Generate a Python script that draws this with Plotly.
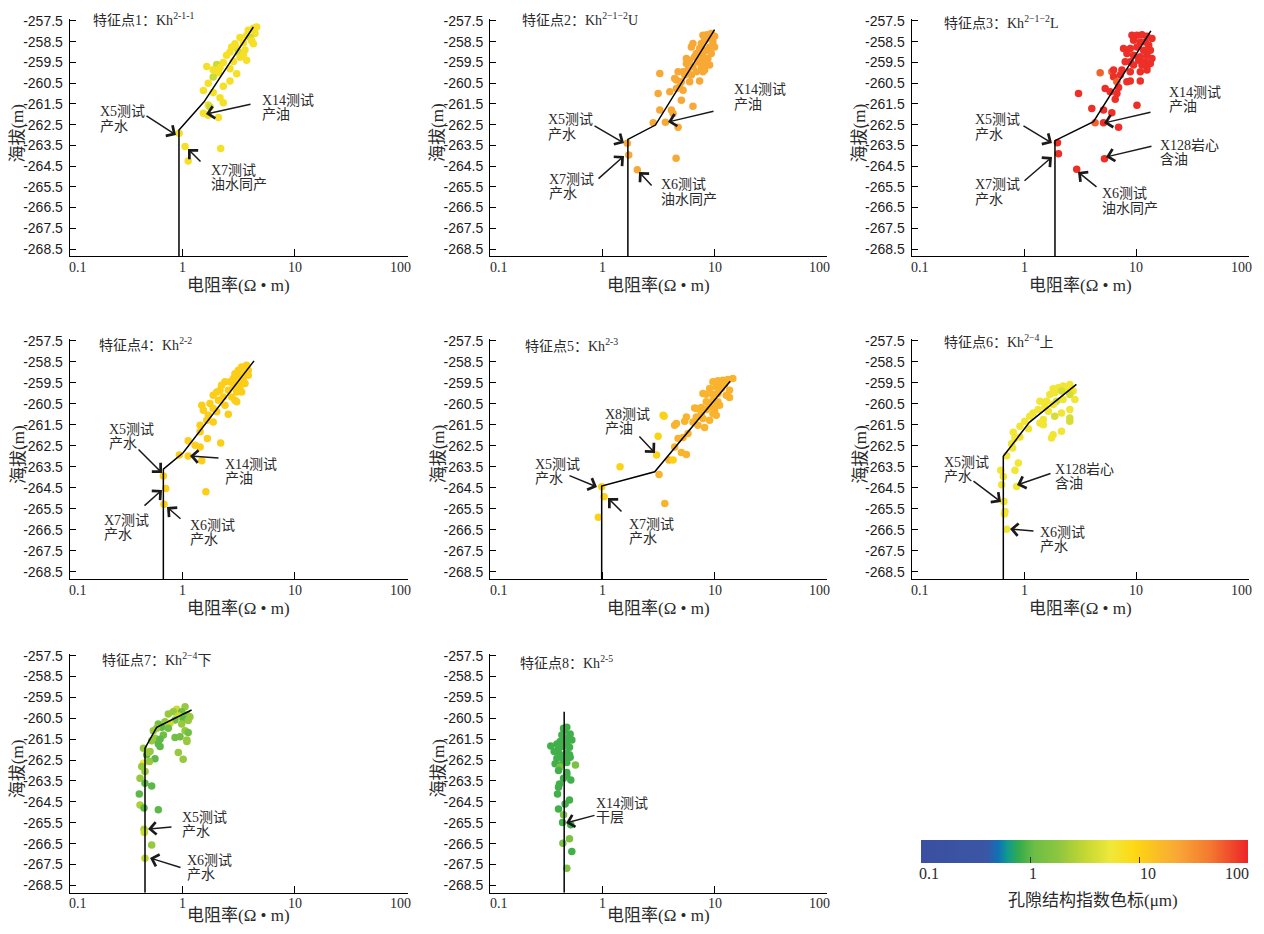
import numpy as np
import plotly.graph_objects as go

# the page body has an 8 px margin: the figure is sized to fit inside the window
VIEW_W, VIEW_H, BODY = 1264, 934, 8
W, H = VIEW_W - 2 * BODY, VIEW_H - 2 * BODY

# ---------------- data (resistivity Ω·m, elevation m, pore-structure index μm) ----------------
p1_res = [4.56, 4.26, 3.84, 4.40, 3.71, 3.98, 4.11, 3.24, 3.47, 2.92, 3.03, 3.59, 4.26, 2.73, 3.13, 3.47,
          2.64, 2.46, 3.24, 3.71, 2.83, 2.30, 2.01, 1.64, 2.15, 1.87, 2.64, 2.08, 3.03, 1.87, 1.69, 2.64,
          2.30, 1.53, 1.87, 2.15, 2.30, 1.69, 1.75, 1.53, 1.69, 2.08, 0.93, 1.05, 1.12, 2.18]
p1_elev = [-257.79, -257.85, -257.95, -258.10, -258.20, -258.30, -258.45, -258.30, -258.55, -258.60, -258.80,
           -258.90, -258.60, -258.75, -259.00, -259.10, -259.00, -259.15, -259.25, -259.40, -259.45, -259.50,
           -259.60, -259.70, -259.75, -259.85, -259.80, -260.00, -260.05, -260.20, -260.50, -260.40, -260.65,
           -260.85, -260.95, -261.20, -261.45, -261.55, -261.65, -261.95, -262.05, -262.15, -262.92, -263.55,
           -264.25, -263.65]
p1_pci = [7, 7, 7, 7, 7, 3.5, 7, 7, 7, 7, 7, 7, 7, 7, 3.5, 7, 7, 7, 7, 7, 7, 7, 3.5, 7, 7, 7, 7, 7, 7,
          3.5, 7, 7, 7, 7, 7, 7, 7, 7, 3.5, 7, 7, 7, 7, 7, 7, 7]
p1_line_res = [0.927, 0.927, 1.55, 4.26]
p1_line_elev = [-268.85, -262.76, -261.40, -257.79]

p2_res = [7.87, 8.55, 9.34, 10.0, 9.03, 8.15, 7.61, 9.66, 9.03, 10.0, 7.35, 8.43, 7.87, 6.87, 9.34, 6.20,
          6.64, 7.61, 8.72, 5.99, 7.11, 8.15, 5.60, 6.41, 7.61, 5.79, 5.23, 6.87, 7.87, 6.20, 4.72, 5.41,
          4.56, 5.05, 5.99, 7.35, 3.24, 4.40, 4.88, 5.23, 4.56, 3.98, 3.13, 5.05, 3.24, 4.11, 4.26, 6.41,
          2.83, 3.64, 4.72, 1.66, 1.71, 2.04, 4.53, 5.60, 6.41, 9.03, 8.15]
p2_elev = [-258.19, -258.16, -258.11, -258.24, -258.35, -258.43, -258.59, -258.51, -258.75, -258.75, -258.83,
           -258.91, -259.07, -259.07, -259.07, -258.75, -259.23, -259.31, -259.31, -259.39, -259.47, -259.55,
           -259.55, -259.71, -259.71, -259.87, -259.95, -259.95, -259.95, -260.11, -259.95, -260.11, -260.35,
           -260.43, -260.43, -260.39, -260.03, -260.27, -260.68, -260.84, -260.76, -260.92, -261.00, -261.32,
           -261.80, -261.80, -261.96, -261.61, -262.41, -262.39, -262.63, -263.40, -263.96, -264.68, -264.12,
           -259.31, -258.59, -259.63, -259.87]
p2_pci = [22] * len(p2_res)
p2_line_res = [1.68, 1.68, 2.96, 10.0]
p2_line_elev = [-268.85, -263.21, -262.52, -257.92]

p3_res = [9.15, 10.14, 11.24, 12.46, 13.8, 9.46, 10.86, 12.04, 12.9, 7.70, 8.84, 10.14, 11.63, 13.35, 8.25,
          9.46, 10.86, 12.46, 13.8, 8.84, 10.5, 12.04, 7.97, 12.46, 9.46, 7.44, 8.84, 10.86, 12.46, 4.76,
          6.05, 6.27, 7.19, 8.25, 6.71, 8.84, 10.86, 5.28, 6.95, 6.71, 5.85, 3.05, 6.49, 10.14, 4.01, 5.10,
          6.05, 4.29, 5.10, 6.95, 1.98, 2.02, 2.94, 5.20, 6.27, 11.24, 13.35]
p3_elev = [-258.19, -258.19, -258.16, -258.24, -258.35, -258.43, -258.51, -258.51, -258.67, -258.83, -258.83,
           -258.75, -258.91, -258.91, -259.07, -259.15, -259.23, -259.15, -259.31, -259.47, -259.39, -259.47,
           -259.47, -259.71, -259.63, -259.87, -259.95, -259.95, -259.87, -260.00, -259.95, -260.19, -260.11,
           -260.43, -260.43, -260.40, -260.40, -260.76, -260.71, -261.00, -260.92, -261.00, -261.28, -261.56,
           -261.72, -261.80, -261.93, -262.41, -262.41, -262.63, -263.37, -263.91, -264.65, -264.14, -259.87,
           -259.63, -259.55]
p3_pci = [90] * len(p3_res)
for _i in (29, 30, 34, 47):
    p3_pci[_i] = 55
p3_line_res = [1.88, 1.88, 4.15, 13.5]
p3_line_elev = [-268.85, -263.27, -262.36, -257.98]

p4_res = [3.71, 3.35, 3.84, 3.13, 3.59, 2.92, 3.84, 3.24, 2.83, 3.47, 2.64, 3.13, 3.59, 2.38, 2.22, 2.83,
          3.24, 2.15, 2.55, 3.03, 3.35, 2.01, 1.87, 2.30, 2.73, 2.92, 2.08, 1.75, 2.38, 1.48, 1.87, 1.53,
          2.01, 2.55, 1.69, 1.64, 1.43, 1.87, 1.43, 1.12, 1.66, 1.29, 1.43, 2.18, 0.934, 1.12, 1.48, 1.61,
          0.673, 0.706, 0.682, 2.83, 3.03]
p4_elev = [-258.66, -258.74, -258.90, -258.90, -259.06, -259.06, -259.13, -259.21, -259.29, -259.37, -259.45,
           -259.53, -259.53, -259.45, -259.61, -259.69, -259.69, -259.85, -259.85, -259.93, -259.93, -259.93,
           -260.09, -260.17, -260.17, -260.33, -260.33, -260.48, -260.56, -260.56, -260.72, -260.80, -260.88,
           -260.99, -261.04, -261.28, -261.52, -261.36, -261.83, -262.26, -262.15, -262.47, -262.55, -262.36,
           -262.94, -262.99, -263.21, -264.69, -263.94, -264.53, -265.28, -259.45, -260.40]
p4_pci = [11] * len(p4_res)
p4_line_res = [0.673, 0.673, 1.01, 4.32]
p4_line_elev = [-268.85, -263.61, -262.83, -258.45]

p5_res = [9.66, 10.71, 11.87, 13.14, 14.56, 11.08, 12.28, 10.35, 9.03, 11.47, 13.6, 7.87, 8.43, 9.66, 10.71,
          12.7, 13.6, 8.43, 9.66, 10.71, 10.35, 9.03, 7.61, 6.64, 6.87, 8.43, 10.0, 11.08, 7.61, 9.66, 6.87,
          7.87, 9.03, 6.41, 10.35, 5.60, 5.41, 4.56, 4.40, 7.11, 8.15, 5.79, 4.72, 5.23, 4.40, 3.47, 3.54,
          3.13, 5.05, 5.60, 3.92, 4.26, 3.03, 1.43, 3.19, 0.98, 1.03, 3.59, 0.915]
p5_elev = [-259.45, -259.40, -259.37, -259.34, -259.29, -259.53, -259.56, -259.69, -259.77, -259.77, -259.85,
           -260.01, -260.04, -260.04, -260.01, -260.09, -260.20, -260.40, -260.33, -260.40, -260.56, -260.64,
           -260.67, -260.69, -260.72, -260.77, -260.80, -260.56, -260.96, -260.96, -261.12, -261.20, -261.28,
           -261.36, -261.04, -261.12, -261.33, -261.44, -261.52, -261.52, -261.63, -261.91, -262.15, -262.10,
           -262.55, -261.04, -261.09, -262.04, -262.82, -262.91, -263.18, -263.18, -262.94, -263.50, -263.87,
           -264.45, -264.93, -265.25, -265.91]
p5_pci = [18] * 45 + [10, 10, 10, 18, 18, 18, 10, 10, 10, 18, 10, 10, 18, 10]
p5_line_res = [0.98, 0.98, 2.92, 13.8]
p5_line_elev = [-268.85, -264.42, -263.74, -259.42]

p6_res = [2.55, 2.22, 2.01, 1.81, 2.38, 2.73, 2.15, 1.87, 1.69, 2.55, 2.83, 2.22, 1.94, 1.58, 1.38, 1.81,
          1.53, 2.55, 2.15, 1.33, 1.20, 1.64, 2.55, 1.48, 2.55, 1.87, 1.12, 1.01, 1.38, 0.915, 1.48, 2.15,
          0.798, 1.09, 0.915, 0.826, 1.81, 1.75, 0.771, 0.787, 0.696, 0.885, 0.616, 0.826, 0.65, 0.629,
          0.855, 0.659, 0.673, 0.664, 0.696]
p6_elev = [-259.57, -259.65, -259.73, -259.78, -259.81, -259.89, -259.89, -259.97, -260.05, -260.05, -260.29,
           -260.29, -260.37, -260.37, -260.37, -260.53, -260.64, -260.77, -260.93, -260.77, -260.93, -260.85,
           -261.17, -261.25, -261.33, -261.09, -261.09, -261.33, -261.41, -261.57, -261.49, -261.81, -261.85,
           -261.69, -262.08, -262.13, -261.97, -262.13, -262.40, -262.60, -262.97, -263.32, -263.67, -263.67,
           -263.96, -264.36, -264.44, -265.16, -265.63, -265.75, -266.48]
p6_pci = [6, 6, 6, 6, 6, 6, 4, 6, 6, 4, 6, 6, 4, 6, 6, 6, 6, 6, 6, 6, 6, 6, 4, 6, 4, 4, 6, 6, 6, 6, 6,
          6, 6, 6, 6, 6, 6, 6, 6, 6, 6, 6, 6, 6, 6, 6, 6, 6, 6, 6, 6]
p6_line_res = [0.65, 0.65, 1.11, 2.92]
p6_line_elev = [-268.85, -263.00, -261.38, -259.57]

p7_res = [1.05, 0.885, 0.826, 0.98, 0.745, 1.09, 1.16, 0.915, 1.01, 0.855, 1.12, 0.696, 0.771, 0.98, 0.607,
          0.65, 0.745, 0.587, 0.548, 1.05, 1.12, 0.673, 0.855, 0.947, 1.09, 0.567, 0.53, 0.629, 1.09, 0.607,
          0.629, 0.447, 0.512, 0.478, 0.495, 0.915, 1.01, 0.567, 0.447, 0.505, 0.432, 0.462, 0.417, 0.462,
          0.53, 0.411, 0.417, 0.453, 0.607, 0.453, 0.456, 0.53, 0.462]
p7_elev = [-259.94, -260.07, -260.18, -260.18, -260.29, -260.34, -260.42, -260.39, -260.55, -260.58, -260.61,
           -260.66, -260.74, -260.77, -260.77, -260.93, -260.98, -260.98, -261.09, -261.09, -261.18, -261.30,
           -261.42, -261.38, -261.54, -261.46, -261.57, -261.50, -261.61, -261.73, -261.85, -261.93, -262.09,
           -262.25, -262.13, -262.14, -262.46, -262.44, -262.65, -262.57, -262.81, -263.05, -263.37, -263.61,
           -263.74, -264.12, -264.65, -264.80, -264.88, -265.81, -265.97, -266.56, -267.20]
p7_pci = [2, 3.5, 2, 1.2, 2, 1.2, 2, 3.5, 1, 1.2, 2, 2, 3.5, 2, 1.2, 1, 1.2, 2, 2, 2, 1.2, 1.2, 1.2, 1.2,
          2, 2, 2, 1, 2, 1, 1, 2, 2, 1, 2, 2, 2, 1, 6, 2, 2, 2, 2, 1, 1, 1, 2.5, 1, 1, 2.5, 3.5, 2, 3]
p7_line_res = [0.462, 0.462, 0.587, 1.20]
p7_line_elev = [-268.85, -261.93, -260.93, -260.10]

p8_res = [0.447, 0.478, 0.453, 0.512, 0.432, 0.495, 0.462, 0.53, 0.417, 0.478, 0.39, 0.344, 0.447, 0.505,
          0.403, 0.369, 0.472, 0.417, 0.505, 0.39, 0.447, 0.512, 0.376, 0.417, 0.478, 0.571, 0.417, 0.403,
          0.478, 0.447, 0.478, 0.519, 0.411, 0.403, 0.395, 0.505, 0.462, 0.403, 0.447, 0.438, 0.519, 0.505,
          0.441, 0.53, 0.478]
p8_elev = [-260.98, -260.93, -261.09, -261.25, -261.30, -261.41, -261.50, -261.54, -261.61, -261.66, -261.73,
           -261.82, -261.85, -261.89, -261.98, -262.09, -262.17, -262.25, -262.25, -262.41, -262.46, -262.36,
           -262.68, -262.73, -262.62, -262.73, -262.83, -263.00, -263.10, -263.37, -263.21, -263.45, -263.64,
           -263.80, -264.12, -264.41, -264.60, -264.84, -265.12, -265.49, -265.60, -266.27, -266.48, -266.88,
           -267.68]
p8_pci = [0.85] * len(p8_res)
for _i in (25, 26, 38, 41, 42, 44):
    p8_pci[_i] = 1.4
p8_line_res = [0.453, 0.453]
p8_line_elev = [-268.85, -260.18]

panel_titles = ["特征点1：Kh<sup>2-1-1</sup>", "特征点2：Kh<sup>2−1−2</sup>U", "特征点3：Kh<sup>2−1−2</sup>L",
                "特征点4：Kh<sup>2-2</sup>", "特征点5：Kh<sup>2-3</sup>", "特征点6：Kh<sup>2−4</sup>上",
                "特征点7：Kh<sup>2−4</sup>下", "特征点8：Kh<sup>2-5</sup>"]
y_tick_vals = [-257.5, -258.5, -259.5, -260.5, -261.5, -262.5, -263.5, -264.5, -265.5, -266.5, -267.5, -268.5]
y_tick_text = ["-257.5", "-258.5", "-259.5", "-260.5", "-261.5", "-262.5", "-263.5", "-264.5", "-265.5",
               "-266.5", "-267.5", "-268.5"]
x_tick_vals = [0.1, 1, 10, 100]
x_tick_text = ["0.1", "1", "10", "100"]
cbar_tick_vals = [0.1, 1, 10, 100]
cbar_tick_text = ["0.1", "1", "10", "100"]
x_title = "电阻率(Ω • m)"
y_title = "海拔(m)"
cbar_title = "孔隙结构指数色标(μm)"

panels = [
    (p1_res, p1_elev, p1_pci, p1_line_res, p1_line_elev),
    (p2_res, p2_elev, p2_pci, p2_line_res, p2_line_elev),
    (p3_res, p3_elev, p3_pci, p3_line_res, p3_line_elev),
    (p4_res, p4_elev, p4_pci, p4_line_res, p4_line_elev),
    (p5_res, p5_elev, p5_pci, p5_line_res, p5_line_elev),
    (p6_res, p6_elev, p6_pci, p6_line_res, p6_line_elev),
    (p7_res, p7_elev, p7_pci, p7_line_res, p7_line_elev),
    (p8_res, p8_elev, p8_pci, p8_line_res, p8_line_elev),
]

# ---------------- layout geometry (window pixels) ----------------
col_px = [(69.8, 407.5), (490.2, 826.7), (911.7, 1248.5)]
row_px = [(19.3, 256.3), (339.3, 579.0), (654.0, 892.7)]
title_pos = [(91, 19), (520, 19), (942, 22), (97, 344), (523, 345), (942, 341), (100, 659), (518, 662)]
xlabel_shift = [8, 0, 0, -7]          # first / last decade labels are pulled inwards
cbar_px = (921, 1248, 840)            # bar left, right, top
cbar_label_px = [929, 1033, 1148, 1237]

def PX(x):
    return (x - BODY) / W

def PY(y):
    return 1 - (y - BODY) / H

SERIF = "Liberation Serif, Noto Sans CJK SC, serif"
TXT = "#2a2a2a"

fig = go.Figure()
layout = dict(width=W, height=H, margin=dict(l=0, r=0, t=0, b=0, autoexpand=False),
              paper_bgcolor="white", plot_bgcolor="white", showlegend=False)

annotations = []
for i, (res, elev, pci, lres, lelev) in enumerate(panels):
    r, c = divmod(i, 3)
    sfx = "" if i == 0 else str(i + 1)
    x0, x1 = col_px[c]
    y0, y1 = row_px[r]
    layout["xaxis" + sfx] = dict(
        type="log", range=[-1.005, 2.002], domain=[PX(x0), PX(x1)], anchor="y" + sfx,
        showline=True, linecolor="black", linewidth=1.3, mirror=False,
        ticks="inside", ticklen=7, tickwidth=1.2, tickcolor="black",
        tickvals=x_tick_vals, showticklabels=False,
        showgrid=False, zeroline=False, fixedrange=True, automargin=False)
    layout["yaxis" + sfx] = dict(
        range=[-268.85, -257.42], domain=[PY(y1), PY(y0)], anchor="x" + sfx,
        showline=True, linecolor="black", linewidth=1.3,
        ticks="inside", ticklen=6, tickwidth=1.2, tickcolor="black",
        tickvals=y_tick_vals, ticktext=y_tick_text, ticklabelstandoff=3,
        tickfont=dict(family="Liberation Sans, Arial, sans-serif", size=14, color="#1a1a1a"),
        showgrid=False, zeroline=False, fixedrange=True, automargin=False)
    fig.add_trace(go.Scatter(
        x=res, y=elev, mode="markers", xaxis="x" + sfx, yaxis="y" + sfx,
        marker=dict(size=7.5, color=np.log10(pci), coloraxis="coloraxis", line=dict(width=0)),
        hoverinfo="skip"))
    fig.add_trace(go.Scatter(
        x=lres, y=lelev, mode="lines", xaxis="x" + sfx, yaxis="y" + sfx,
        line=dict(color="black", width=1.5), hoverinfo="skip"))
    # x tick labels
    for v, t, sh in zip(x_tick_vals, x_tick_text, xlabel_shift):
        annotations.append(dict(text=t, x=np.log10(v), xref="x" + sfx, y=PY(y1 + 11), yref="paper",
                                xshift=sh, xanchor="center", yanchor="middle", showarrow=False,
                                font=dict(family=SERIF, size=14, color=TXT)))
    tx, ty = title_pos[i]
    annotations.append(dict(text=panel_titles[i], x=PX(tx), y=PY(ty), xref="paper", yref="paper",
                            xanchor="left", yanchor="middle", showarrow=False,
                            font=dict(family=SERIF, size=14, color=TXT)))
    annotations.append(dict(text=x_title, x=PX((x0 + x1) / 2), y=PY(min(y1 + 29, 915)),
                            xref="paper", yref="paper", xanchor="center", yanchor="middle",
                            showarrow=False, font=dict(family=SERIF, size=17, color=TXT)))
    annotations.append(dict(text=y_title, x=PX(x0 - 52), y=PY((y0 + y1) / 2 - 5), xref="paper", yref="paper",
                            xanchor="center", yanchor="middle", showarrow=False, textangle=-90,
                            font=dict(family=SERIF, size=17, color=TXT)))

# callouts: (lines, text-left/top px, arrow tail px, arrow head px)
callouts = [
    (("X5测试", "产水"), (98, 104), (145, 115), (176, 135)),
    (("X14测试", "产油"), (260, 92), (252, 104), (206, 114)),
    (("X7测试", "油水同产"), (209, 162), (202, 163), (188, 149)),
    (("X5测试", "产水"), (546, 112), (593, 125), (624, 143)),
    (("X7测试", "产水"), (547, 171), (597, 180), (624, 156)),
    (("X6测试", "油水同产"), (659, 177), (653, 187), (639, 172)),
    (("X14测试", "产油"), (732, 82), (715, 111), (668, 122)),
    (("X5测试", "产水"), (973, 112), (1022, 125), (1052, 143)),
    (("X7测试", "产水"), (973, 177), (1023, 182), (1052, 157)),
    (("X14测试", "产油"), (1167, 84), (1152, 112), (1104, 123)),
    (("X128岩心", "含油"), (1158, 137), (1153, 146), (1106, 157)),
    (("X6测试", "油水同产"), (1100, 186), (1098, 188), (1078, 172)),
    (("X5测试", "产水"), (107, 421), (137, 448), (162, 473)),
    (("X7测试", "产水"), (102, 512), (143, 507), (162, 490)),
    (("X6测试", "产水"), (188, 517), (182, 520), (167, 507)),
    (("X14测试", "产油"), (223, 456), (220, 458), (190, 456)),
    (("X8测试", "产油"), (603, 406), (638, 435), (655, 453)),
    (("X5测试", "产水"), (533, 456), (568, 475), (597, 487)),
    (("X7测试", "产水"), (627, 516), (623, 513), (608, 498)),
    (("X5测试", "产水"), (942, 454), (972, 480), (1001, 502)),
    (("X128岩心", "含油"), (1053, 461), (1052, 473), (1017, 485)),
    (("X6测试", "产水"), (1038, 524), (1035, 531), (1010, 529)),
    (("X5测试", "产水"), (180, 809), (173, 827), (148, 829)),
    (("X6测试", "产水"), (185, 852), (182, 868), (150, 858)),
    (("X14测试", "干层"), (594, 795), (596, 815), (566, 823)),
]
LINE_PITCH = 14.5
for lines, (tx, ty), (ax_, ay_), (hx, hy) in callouts:
    for k, line in enumerate(lines):
        annotations.append(dict(text=line, x=PX(tx), y=PY(ty + 8 + k * LINE_PITCH), xref="paper",
                                yref="paper", xanchor="left", yanchor="middle", showarrow=False,
                                font=dict(family=SERIF, size=14, color=TXT)))
    annotations.append(dict(text="", x=PX(hx), y=PY(hy), xref="paper", yref="paper",
                            showarrow=True, ax=ax_ - hx, ay=ay_ - hy, arrowhead=4,
                            arrowsize=1.6, arrowwidth=1.5, arrowcolor="#1a1a1a", standoff=0))

# colour-bar labels and title
for px_, t in zip(cbar_label_px, cbar_tick_text):
    annotations.append(dict(text=t, x=PX(px_), y=PY(873), xref="paper", yref="paper",
                            xanchor="center", yanchor="middle", showarrow=False,
                            font=dict(family=SERIF, size=16, color=TXT)))
annotations.append(dict(text=cbar_title, x=PX(1093), y=PY(900), xref="paper", yref="paper",
                        xanchor="center", yanchor="middle", showarrow=False,
                        font=dict(family=SERIF, size=17, color=TXT)))

layout["annotations"] = annotations
cb_l, cb_r, cb_t = cbar_px
layout["coloraxis"] = dict(
    cmin=-1, cmax=2,
    colorscale=[[0.0, "#3b4fa1"], [0.2, "#3a56a5"], [0.235, "#1170b6"], [0.265, "#119b8d"],
                [0.30, "#35ab4c"], [0.345, "#6cbd45"], [0.42, "#8dc63f"], [0.50, "#c3d733"],
                [0.58, "#efe83a"], [0.65, "#fdd915"], [0.67, "#fcd116"], [0.78, "#f8a935"],
                [0.88, "#f37c30"], [1.0, "#ec2427"]],
    colorbar=dict(orientation="h", x=PX((cb_l + cb_r) / 2), xanchor="center", y=PY(cb_t), yanchor="top",
                  len=(cb_r - cb_l) / W, lenmode="fraction", thickness=23, thicknessmode="pixels",
                  xpad=0, ypad=0, outlinewidth=0,
                  tickvals=list(np.log10(cbar_tick_vals)), showticklabels=False,
                  ticks="inside", ticklen=6, tickwidth=1.3, tickcolor="#333"))
fig.update_layout(**layout)
fig.write_html("out.html")
